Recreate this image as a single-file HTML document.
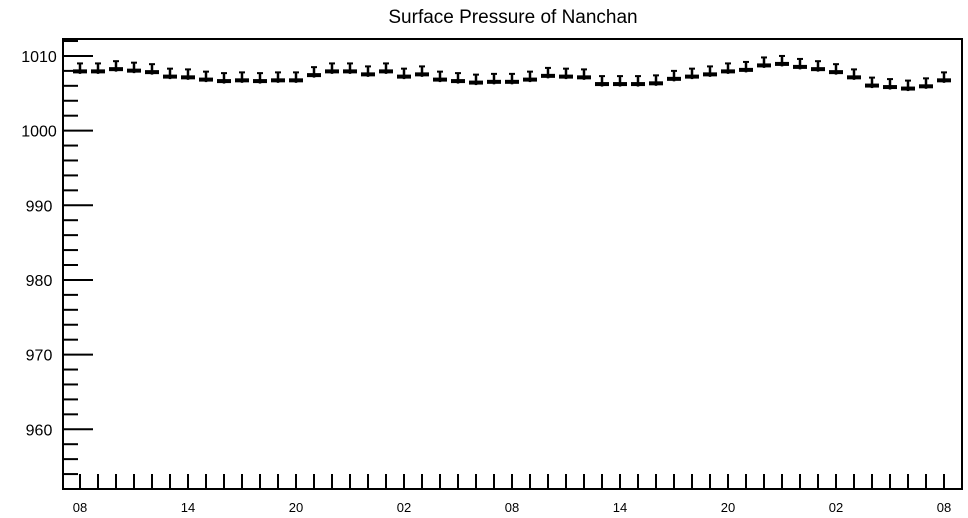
<!DOCTYPE html>
<html><head><meta charset="utf-8"><style>
html,body{margin:0;padding:0;background:#fff;}
svg{display:block;font-family:"Liberation Sans",Arial,sans-serif;}
</style></head><body>
<svg id="chart" width="968" height="518">
<text x="513" y="23" text-anchor="middle" font-size="19">Surface Pressure of Nanchan</text>
<g id="axes"></g><g id="marks"></g>
</svg>
<script>
const hourLabels = ["08","14","20","02","08","14","20","02","08"];
const yTicks = [960,970,980,990,1000,1010];
const pressure = [1008,1008,1008.3,1008.1,1007.9,1007.3,1007.2,1006.9,1006.7,1006.8,1006.7,1006.8,1006.8,1007.5,1008,1008,1007.6,1008,1007.3,1007.6,1006.9,1006.7,1006.5,1006.6,1006.6,1006.9,1007.4,1007.3,1007.2,1006.3,1006.3,1006.3,1006.4,1007,1007.3,1007.6,1008,1008.2,1008.8,1009,1008.6,1008.3,1007.9,1007.2,1006.1,1005.9,1005.7,1006,1006.8];
const errUp = 1.0;

const L=63,R=962,T=39,B=489;
const yMin=952,yMax=1012.27;
const y=v=>B-(v-yMin)/(yMax-yMin)*(B-T);
const x=i=>80+i*18;
const NS='http://www.w3.org/2000/svg';
const ax=document.getElementById('axes'), mk=document.getElementById('marks');
function mkEl(tag,attrs,parent){const e=document.createElementNS(NS,tag);for(const k in attrs)e.setAttribute(k,attrs[k]);parent.appendChild(e);return e;}

const frame=mkEl('rect',{x:L,y:T,width:R-L,height:B-T,fill:'none',stroke:'#000','stroke-width':2},ax);



for(let v=954;v<=1012;v+=2){
  const major=yTicks.includes(v);
  const t=mkEl('line',{x1:L,x2:L+(major?30:15),y1:y(v),y2:y(v),stroke:'#000','stroke-width':2},ax);
  
  
}
yTicks.forEach(v=>{
  const t=mkEl('text',{x:L-24,y:y(v)+6,'text-anchor':'middle','font-size':16},ax);
  t.textContent=v;
  
  
});
pressure.forEach((p,i)=>{
  const t=mkEl('line',{x1:x(i),x2:x(i),y1:B-15,y2:B,stroke:'#000','stroke-width':2},ax);
  
  
});
hourLabels.forEach((lab,k)=>{
  const t=mkEl('text',{x:x(k*6),y:512,'text-anchor':'middle','font-size':13},ax);
  t.textContent=lab;
  
  
});
pressure.forEach((p,i)=>{
  const g=mkEl('g',{},mk);
  
  
  const cy=y(p), top=y(p+errUp);
  mkEl('line',{x1:x(i),x2:x(i),y1:top,y2:cy+3,stroke:'#000','stroke-width':2.5},g);
  mkEl('line',{x1:x(i)-3,x2:x(i)+3,y1:top,y2:top,stroke:'#000','stroke-width':2},g);
  mkEl('rect',{x:x(i)-7,y:cy-1.5,width:14,height:4,fill:'#000'},g);
});
</script>
</body></html>
